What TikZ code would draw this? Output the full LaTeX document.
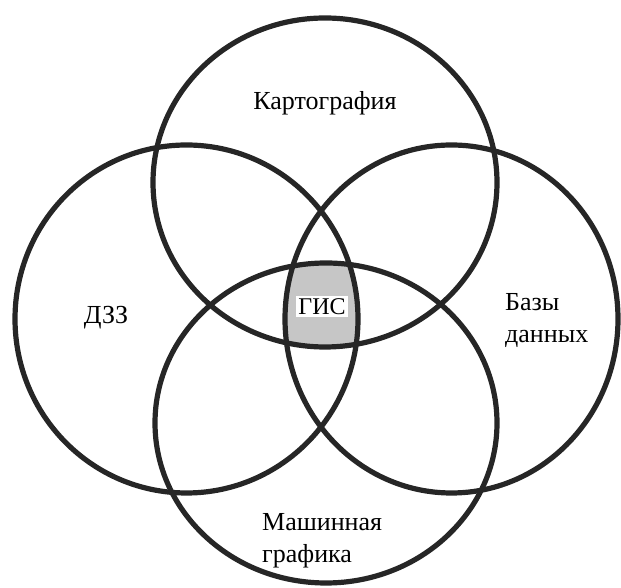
\documentclass[tikz,border=0pt]{standalone}
\usepackage{fontspec}
\setmainfont{Liberation Serif}
\definecolor{ringcol}{HTML}{262626}
\definecolor{giscol}{HTML}{C6C6C6}

\begin{document}
\begin{tikzpicture}[x=1pt, y=1pt, font=\fontsize{26}{32}\selectfont]
    % Styles
    \tikzstyle{ring}=[draw=ringcol, line width=5.2pt]
    \tikzstyle{area label}=[inner sep=0pt, align=left]
    \tikzstyle{core label}=[fill=white, inner sep=2pt, font=\fontsize{24}{28}\selectfont]

    \useasboundingbox (0,0) rectangle (621,588);

    % --- Centres of the four rings ---
    \coordinate (c_top) at (325, 405.5);
    \coordinate (c_left) at (186.5, 269);
    \coordinate (c_right) at (451.5, 269);
    \coordinate (c_bottom) at (326, 165);

    % --- Common part of all four (grey) ---
    \begin{scope}
        \clip (c_top) ellipse [x radius=172, y radius=164.5];
        \clip (c_left) ellipse [x radius=171.5, y radius=174];
        \clip (c_right) ellipse [x radius=166.5, y radius=174];
        \clip (c_bottom) ellipse [x radius=171, y radius=160];
        \fill[giscol] (0,0) rectangle (621,588);
    \end{scope}

    % --- Rings ---
    \draw[ring] (c_top) ellipse [x radius=172, y radius=164.5];
    \draw[ring] (c_left) ellipse [x radius=171.5, y radius=174];
    \draw[ring] (c_right) ellipse [x radius=166.5, y radius=174];
    \draw[ring] (c_bottom) ellipse [x radius=171, y radius=160];

    % --- Labels ---
    \node[area label] (carto) at (325, 485) {Картография};
    \node[area label] (dzz) at (106, 270) {ДЗЗ};
    \node[area label, anchor=west] (db) at (505, 267) {Базы\\данных};
    \node[area label, anchor=west] (graph) at (262, 47) {Машинная\\графика};
    \node[core label] (gis) at (322, 281.5) {ГИС};

\end{tikzpicture}
\end{document}
